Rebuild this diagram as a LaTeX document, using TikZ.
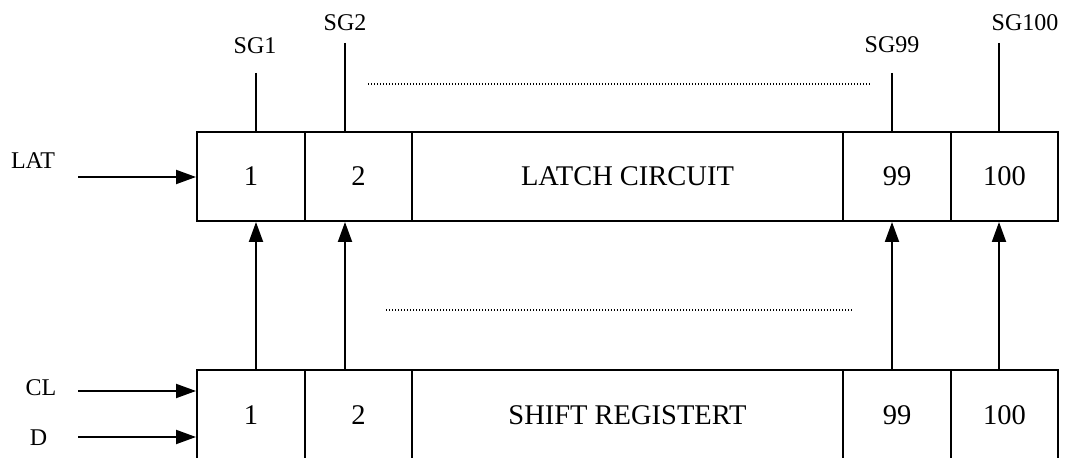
\documentclass[tikz,border=0pt]{standalone}
\usepackage{fontspec}
\setmainfont{Liberation Serif}
\usetikzlibrary{arrows.meta}

\begin{document}
\begin{tikzpicture}[x=0.5pt,y=-0.5pt,
        cell/.style={draw,line width=1pt,inner sep=0pt,font=\fontsize{14.25}{17}\selectfont},
        lbl/.style={inner sep=0pt,font=\fontsize{12}{14}\selectfont},
        wire/.style={line width=1pt},
        arr/.style={line width=1pt,-{Triangle[length=10pt,width=7pt]}},
        dots/.style={line width=0.7pt,dash pattern=on 0.7pt off 0.8pt}]
                \useasboundingbox (0,0) rectangle (1066,458);
                \node [cell,minimum width=54pt,minimum height=44.5pt] (l1) at (251,176.5) {1};
                \node [cell,minimum width=53.5pt,minimum height=44.5pt] (l2) at (358.5,176.5) {2};
                \node [cell,minimum width=215.5pt,minimum height=44.5pt] (lmain) at (627.5,176.5) {LATCH CIRCUIT};
                \node [cell,minimum width=54pt,minimum height=44.5pt] (l99) at (897,176.5) {99};
                \node [cell,minimum width=53.5pt,minimum height=44.5pt] (l100) at (1004.5,176.5) {100};
                \node [cell,minimum width=54pt,minimum height=45pt] (s1) at (251,415) {1};
                \node [cell,minimum width=53.5pt,minimum height=45pt] (s2) at (358.5,415) {2};
                \node [cell,minimum width=215.5pt,minimum height=45pt] (smain) at (627.5,415) {SHIFT REGISTERT};
                \node [cell,minimum width=54pt,minimum height=45pt] (s99) at (897,415) {99};
                \node [cell,minimum width=53.5pt,minimum height=45pt] (s100) at (1004.5,415) {100};
                \foreach \c/\x/\y in {1/256/73,2/345/43,99/892/73,100/999/43}{
                    \coordinate (sg\c) at (\x,\y);
                    \draw [wire] (sg\c) -- (sg\c |- l\c.north);
                    \draw [arr] (sg\c |- s\c.north) -- (sg\c |- l\c.south);
                }
                \node [lbl] (tsg1) at (255,46) {SG1};
                \node [lbl] (tsg2) at (345,22.5) {SG2};
                \node [lbl] (tsg99) at (892,44.5) {SG99};
                \node [lbl] (tsg100) at (1025,22.5) {SG100};
                \draw [dots] (368,84) -- (870,84);
                \draw [dots] (386,310) -- (852,310);
                \node [lbl] (tlat) at (33,161) {LAT};
                \node [lbl] (tcl) at (41,388) {CL};
                \node [lbl] (td) at (38.5,437.5) {D};
                \coordinate (lat) at (78,177);
                \coordinate (cl) at (78,391);
                \coordinate (d) at (78,437);
                \draw [arr] (lat) -- (lat -| l1.west);
                \draw [arr] (cl) -- (cl -| s1.west);
                \draw [arr] (d) -- (d -| s1.west);
            \end{tikzpicture}
\end{document}
